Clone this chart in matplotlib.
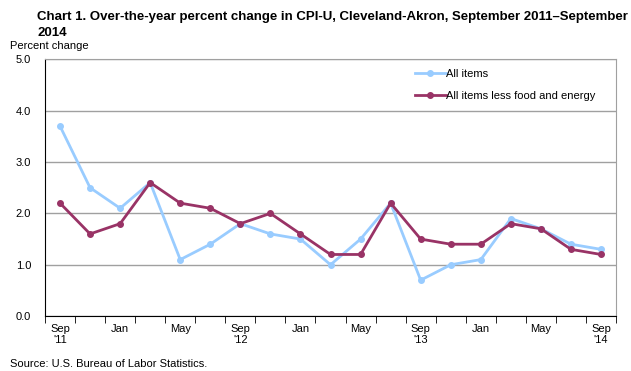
import matplotlib.pyplot as plt
import numpy as np

plt.rcParams['font.family'] = ['Liberation Sans', 'DejaVu Sans']

# --- Data: bi-monthly points, Sep 2011 - Sep 2014 ---
all_items = [3.7, 2.5, 2.1, 2.6, 1.1, 1.4, 1.8, 1.6, 1.5, 1.0,
             1.5, 2.2, 0.7, 1.0, 1.1, 1.9, 1.7, 1.4, 1.3]
core = [2.2, 1.6, 1.8, 2.6, 2.2, 2.1, 1.8, 2.0, 1.6, 1.2,
        1.2, 2.2, 1.5, 1.4, 1.4, 1.8, 1.7, 1.3, 1.2]
tick_labels = ["Sep\n'11", "Jan", "May", "Sep\n'12", "Jan", "May",
               "Sep\n'13", "Jan", "May", "Sep\n'14"]
yticks = [0.0, 1.0, 2.0, 3.0, 4.0, 5.0]

x = np.arange(len(all_items))

fig = plt.figure(figsize=(6.31, 3.71), dpi=100)
ax = fig.add_axes([0.0713, 0.148, 0.905, 0.692])

ax.plot(x, all_items, color='#99CCFF', lw=2, marker='o', ms=4,
        label='All items')
ax.plot(x, core, color='#993366', lw=2, marker='o', ms=4,
        label='All items less food and energy')

ax.set_xlim(-0.5, len(x) - 0.5)
ax.set_ylim(0, 5)
ax.set_yticks(yticks)
ax.set_yticklabels([f"{v:.1f}" for v in yticks], fontsize=8)
ax.yaxis.grid(True, color='#a0a0a0', lw=1)
ax.set_axisbelow(True)

# category ticks between points, labels every 4 months
ax.set_xticks(np.arange(-0.5, len(x), 1.0), minor=True)
ax.set_xticks(x[::2])
ax.set_xticklabels(tick_labels, fontsize=8, linespacing=1.1)
ax.tick_params(axis='x', which='major', length=0, pad=6)
ax.tick_params(axis='x', which='minor', length=5, direction='out', color='black')
ax.tick_params(axis='y', length=0, pad=10)

for s in ['top', 'right']:
    ax.spines[s].set_color('#a0a0a0')
ax.spines['left'].set_color('black')
ax.spines['bottom'].set_color('black')

ax.legend(loc='upper left', bbox_to_anchor=(0.63, 1.0), frameon=False,
          fontsize=8, handlelength=2.8, handletextpad=0.05, labelspacing=1.05)

fig.text(0.059, 0.97, "Chart 1. Over-the-year percent change in CPI-U, Cleveland-Akron, September 2011\u2013September\n2014",
         fontsize=9.5, fontweight='bold', va='top', linespacing=1.4)
fig.text(0.016, 0.862, "Percent change", fontsize=8, va='bottom')
fig.text(0.016, 0.012, "Source: U.S. Bureau of Labor Statistics.", fontsize=8)

fig.savefig('out.png', dpi=100)
